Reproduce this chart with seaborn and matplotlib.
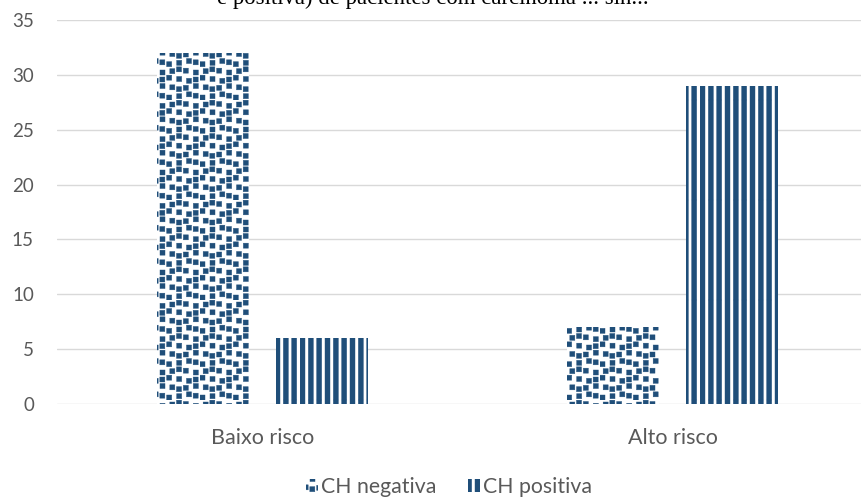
import matplotlib
matplotlib.use("Agg")
import numpy as np
import pandas as pd
import seaborn as sns
import matplotlib.pyplot as plt
import matplotlib.hatch as mhatch
from matplotlib.path import Path

# ---- data -------------------------------------------------------------
categories = ["Baixo risco", "Alto risco"]
series = ["CH negativa", "CH positiva"]
ch_negativa = [32, 7]
ch_positiva = [6, 29]
y_ticks = [0, 5, 10, 15, 20, 25, 30, 35]
title_text = "e positiva) de pacientes com carcinoma ... sin..."

df = pd.DataFrame({
    "Risco": categories * 2,
    "Grupo": [series[0]] * len(categories) + [series[1]] * len(categories),
    "Pacientes": ch_negativa + ch_positiva,
})

BLUE = "#1f4e79"
GREY_TXT = "#595959"
GRID = "#d9d9d9"


# ---- fill patterns: solid wide stripes and square confetti -------------
class WideStripes(mhatch.HatchPatternBase):
    """Solid vertical stripes, one per '|' per density step."""
    fraction = 0.6

    def __init__(self, hatch, density):
        self.num_lines = int(hatch.count("|") * density)
        self.num_vertices = self.num_lines * 5

    def set_vertices_and_codes(self, vertices, codes):
        step = 1.0 / self.num_lines
        w = step * self.fraction
        for i in range(self.num_lines):
            x0 = i * step
            vertices[i * 5:(i + 1) * 5] = [(x0, 0), (x0 + w, 0), (x0 + w, 1),
                                           (x0, 1), (x0, 0)]
            codes[i * 5:(i + 1) * 5] = [Path.MOVETO, Path.LINETO, Path.LINETO,
                                        Path.LINETO, Path.CLOSEPOLY]


class Confetti(mhatch.HatchPatternBase):
    """Small filled squares scattered on a loose grid."""
    side = 0.6
    shift_x = [0.0, 0.2, 0.38, 0.18]
    shift_y = [0.0, 0.22, 0.38, 0.16]

    def __init__(self, hatch, density):
        self.cells = int(hatch.count(".") * density)
        self.num_vertices = self.cells ** 2 * 5

    def set_vertices_and_codes(self, vertices, codes):
        n = self.cells
        s = 1.0 / n
        a = s * self.side
        k = 0
        for r in range(n):
            for c in range(n):
                dx = self.shift_x[(c + 2 * r) % 4]
                dy = self.shift_y[(r + 3 * c) % 4]
                x0, y0 = (c + dx) * s, (r + dy) * s
                vertices[k:k + 5] = [(x0, y0), (x0 + a, y0), (x0 + a, y0 + a),
                                     (x0, y0 + a), (x0, y0)]
                codes[k:k + 5] = [Path.MOVETO, Path.LINETO, Path.LINETO,
                                  Path.LINETO, Path.CLOSEPOLY]
                k += 5


mhatch._hatch_types = [t for t in mhatch._hatch_types
                       if t not in (mhatch.VerticalHatch, mhatch.SmallFilledCircles)]
mhatch._hatch_types += [WideStripes, Confetti]

# ---- style ------------------------------------------------------------
sns.set_theme(style="white")
plt.rcParams["font.family"] = ["Lato", "DejaVu Sans"]
plt.rcParams["hatch.linewidth"] = 0.3
plt.rcParams["hatch.color"] = BLUE

fig = plt.figure(figsize=(8.62, 4.97), dpi=100)
W, H = 862, 497
ax_left, ax_bottom, ax_top = 57.5, 404, 20
ax = fig.add_axes([ax_left / W, 1 - ax_bottom / H, 1 - ax_left / W,
                   (ax_bottom - ax_top) / H])

sns.barplot(data=df, x="Risco", y="Pacientes", hue="Grupo",
            palette=["white", "white"], width=0.584, gap=0.233,
            edgecolor=BLUE, linewidth=0, legend=False, ax=ax)

hatches = ["..", "||"]
for cont, h in zip(ax.containers, hatches):
    for p in cont.patches:
        p.set_hatch(h)
        p.set_edgecolor(BLUE)
        p.set_linewidth(0)

ax.set_ylim(0, 35)
ax.set_yticks(y_ticks)
ax.set_xlim(-0.5, 1.5 - 15.5 / 410)
ax.set_xlabel("")
ax.set_ylabel("")
for sp in ax.spines.values():
    sp.set_visible(False)
ax.yaxis.grid(True, color=GRID, linewidth=1.0)
ax.set_axisbelow(True)
ax.tick_params(axis="both", length=0, colors=GREY_TXT)
ax.tick_params(axis="y", pad=17, labelsize=13.5)
ax.tick_params(axis="x", pad=17.5, labelsize=15.5)

fig.text(433 / W, 1 - 4 / H, title_text, family="Liberation Serif",
         fontsize=16.4, ha="center", va="baseline", color="black")

leg = fig.legend(ax.containers, series, loc="center",
                 bbox_to_anchor=(449 / W, 10 / H), ncol=2, frameon=False,
                 fontsize=15.3, handlelength=0.55, handleheight=0.55,
                 handletextpad=0.15, columnspacing=1.5, labelcolor=GREY_TXT)

fig.savefig("out.png", dpi=100)
